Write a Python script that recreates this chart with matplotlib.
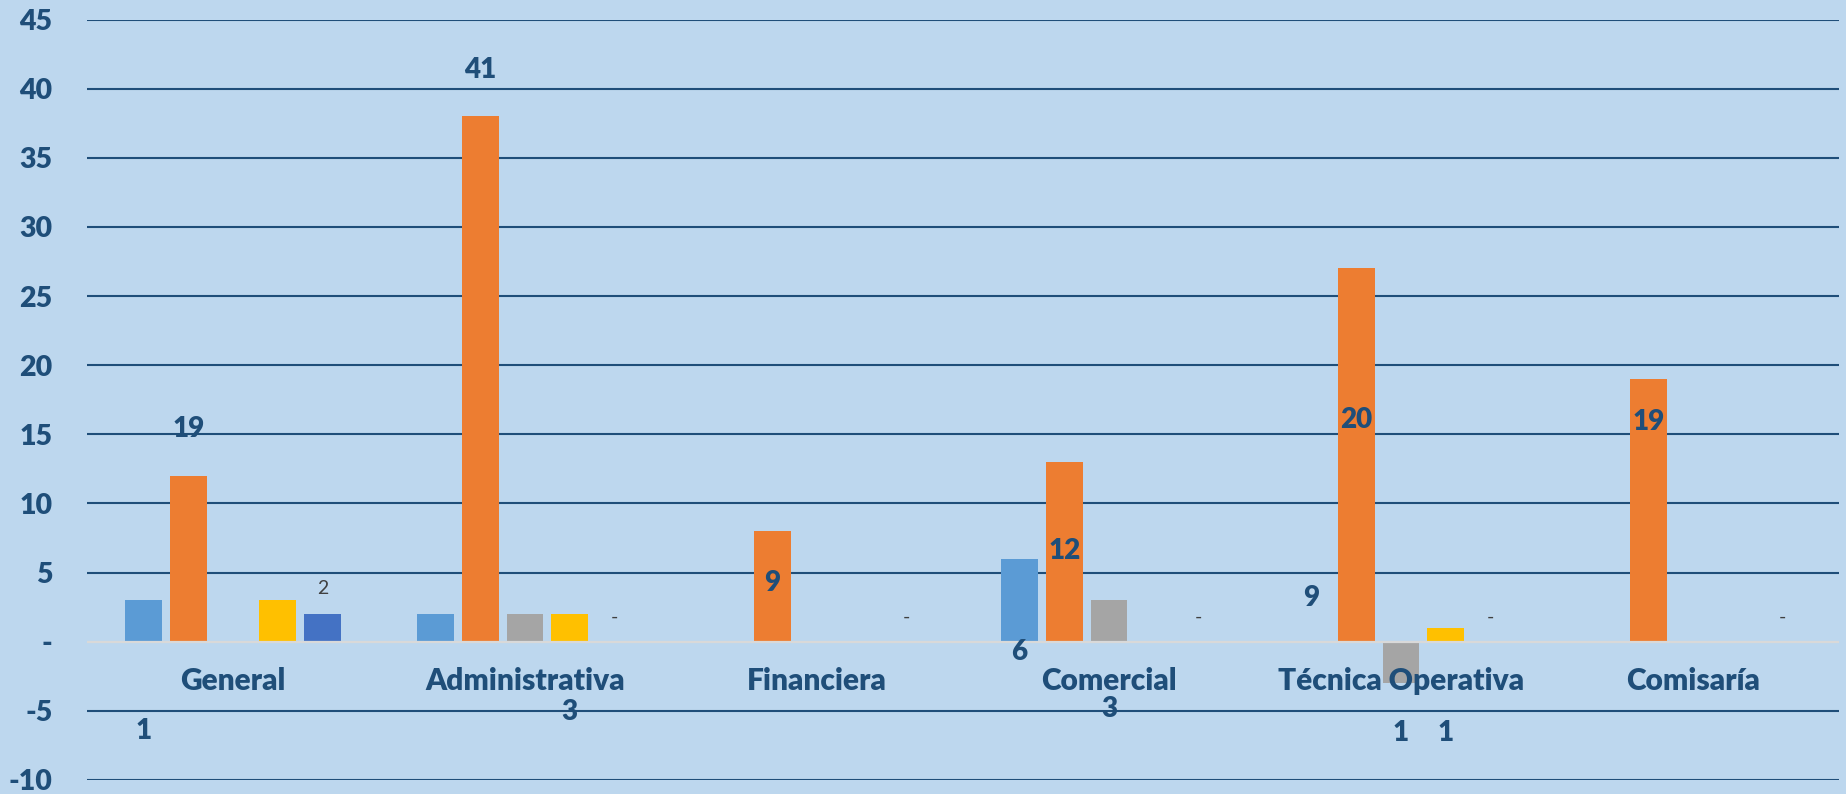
import numpy as np
import matplotlib
matplotlib.use("Agg")
import matplotlib.pyplot as plt

plt.rcParams['font.family'] = ['Lato', 'DejaVu Sans']

categories = ["General", "Administrativa", "Financiera", "Comercial", "Técnica Operativa", "Comisaría"]
series_blue = [3, 2, 0, 6, 0, 0]
series_orange = [12, 38, 8, 13, 27, 19]
series_gray = [0, 2, 0, 3, -3, 0]
series_yellow = [3, 2, 0, 0, 1, 0]
series_darkblue = [2, 0, 0, 0, 0, 0]

# data labels as they appear in the picture: (series index, category index, text, y value)
label_series = [0, 1, 4, 1, 3, 4, 1, 4, 0, 1, 2, 4, 0, 1, 2, 3, 4, 1, 4]
label_cats = [0, 0, 0, 1, 1, 1, 2, 2, 3, 3, 3, 3, 4, 4, 4, 4, 4, 5, 5]
label_texts = ["1", "19", "2", "41", "3", "-", "9", "-", "6", "12", "3", "-", "9", "20", "1", "1", "-", "19", "-"]
label_yvals = [-6.46, 15.4, 3.85, 41.36, -5.1, 1.8, 4.22, 1.76, -0.77, 6.55, -4.9, 1.76, 3.18, 16.04, -6.57, -6.57, 1.75, 15.9, 1.75]

yticks = list(range(-10, 50, 5))
ytick_labels = ["-" if v == 0 else str(v) for v in yticks]

colors = ["#5B9BD5", "#ED7D31", "#A5A5A5", "#FFC000", "#4472C4"]
series = [series_blue, series_orange, series_gray, series_yellow, series_darkblue]
navy = "#1F4E79"
bg = "#BDD7EE"
W = 'heavy'

fig = plt.figure(figsize=(18.46, 7.94), dpi=100)
fig.patch.set_facecolor(bg)
ax = fig.add_axes([87 / 1846, 14 / 794, (1839 - 87) / 1846, (780 - 19.5) / 794])
ax.set_facecolor(bg)

x = np.arange(len(categories))
step = 0.153
width = 0.125
for i, (vals, c) in enumerate(zip(series, colors)):
    ax.bar(x + (i - 2) * step, vals, width=width, color=c, zorder=3)

ax.set_xlim(-0.5, len(categories) - 0.5)
ax.set_ylim(-10, 45)
ax.set_yticks(yticks)
ax.set_yticklabels(ytick_labels, fontsize=20.5, fontweight=W, color=navy)
ax.tick_params(axis='y', length=0, pad=25)
ax.set_xticks([])
for s in ax.spines.values():
    s.set_visible(False)

for v in yticks:
    if v == 0:
        ax.axhline(v, color="#D9D9D9", lw=1.6, zorder=4)
    else:
        ax.axhline(v, color=navy, lw=1.5, zorder=1)

for xi, name in zip(x, categories):
    ax.text(xi, -2.87, name, ha='center', va='center', fontsize=21.5,
            fontweight=W, color=navy, zorder=5)

for si, ci, t, yv in zip(label_series, label_cats, label_texts, label_yvals):
    xpos = x[ci] + (si - 2) * step
    if t == "-" or (si == 4 and t != "-"):
        ax.text(xpos, yv, t, ha='center', va='center', fontsize=14,
                color="#404040", zorder=6)
    else:
        ax.text(xpos, yv, t, ha='center', va='center', fontsize=20,
                fontweight=W, color=navy, zorder=6)

fig.savefig("out.png", dpi=100, facecolor=bg)
